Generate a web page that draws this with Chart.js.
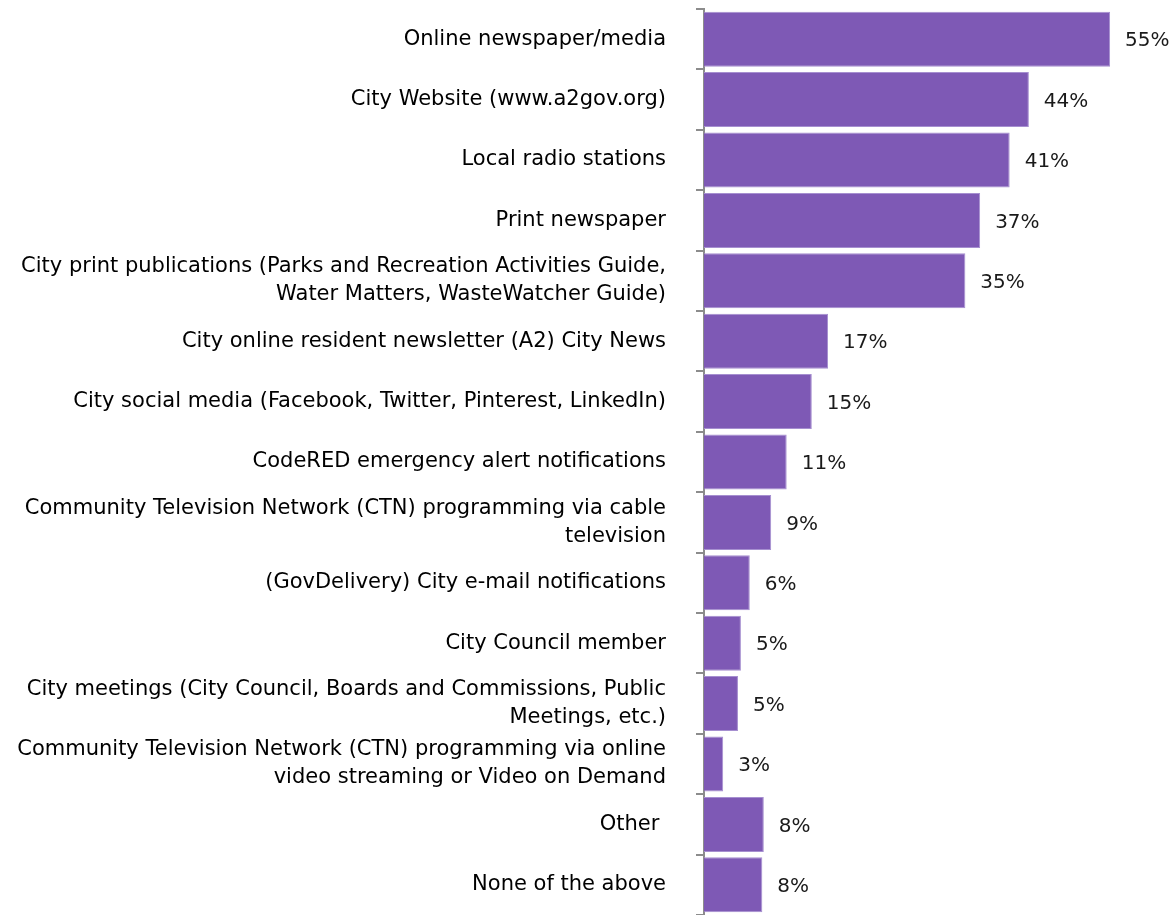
<!DOCTYPE html>
<html>
<head>
<meta charset="utf-8">
<script src="https://cdn.jsdelivr.net/npm/chart.js@4"></script>
<style>
  html, body { margin: 0; padding: 0; background: #fff; }
  #wrap { width: 1173px; height: 915px; position: relative; }
</style>
</head>
<body>
<div id="wrap"><canvas id="chart"></canvas></div>
<script>
const categories = [
  "Online newspaper/media",
  "City Website (www.a2gov.org)",
  "Local radio stations",
  "Print newspaper",
  ["City print publications (Parks and Recreation Activities Guide,", "Water Matters, WasteWatcher Guide)"],
  "City online resident newsletter (A2) City News",
  "City social media (Facebook, Twitter, Pinterest, LinkedIn)",
  "CodeRED emergency alert notifications",
  ["Community Television Network (CTN) programming via cable", "television"],
  "(GovDelivery) City e-mail notifications",
  "City Council member",
  ["City meetings (City Council, Boards and Commissions, Public", "Meetings, etc.)"],
  ["Community Television Network (CTN) programming via online", "video streaming or Video on Demand"],
  "Other ",
  "None of the above"
];
const percents = [55, 44, 41.4, 37.4, 35.4, 16.8, 14.6, 11.2, 9.1, 6.2, 5.0, 4.6, 2.6, 8.1, 7.9];

const FONT = "'DejaVu Sans', Verdana, sans-serif";
const AXIS_X = 704;

// percentage text right of each bar
const valueLabels = {
  id: "valueLabels",
  afterDatasetsDraw(chart) {
    const ctx = chart.ctx;
    const meta = chart.getDatasetMeta(0);
    ctx.save();
    ctx.font = "20px " + FONT;
    ctx.fillStyle = "#1a1a1a";
    ctx.textAlign = "left";
    ctx.textBaseline = "middle";
    meta.data.forEach((bar, i) => {
      ctx.fillText(Math.round(percents[i]) + "%", bar.x + 15, bar.y + 2);
    });
    ctx.restore();
  }
};

new Chart(document.getElementById("chart"), {
  type: "bar",
  data: {
    labels: categories,
    datasets: [{
      data: percents,
      backgroundColor: "#7e59b5",
      borderColor: "#a68fd0",
      borderWidth: 1,
      barPercentage: 0.91,
      categoryPercentage: 1.0
    }]
  },
  options: {
    indexAxis: "y",
    responsive: true,
    maintainAspectRatio: false,
    animation: false,
    layout: { padding: { top: 9, bottom: 0, left: 0, right: 26 } },
    plugins: {
      legend: { display: false },
      tooltip: { enabled: false }
    },
    scales: {
      x: {
        display: false,
        min: 0,
        max: 60
      },
      y: {
        afterFit(scale) {
          scale.width = AXIS_X;
          scale.paddingTop = 0;
          scale.paddingBottom = 0;
        },
        border: { display: true, color: "#8c8c8c", width: 2 },
        grid: {
          display: true,
          drawOnChartArea: false,
          drawTicks: true,
          tickLength: 8,
          color: "#8c8c8c",
          lineWidth: 2,
          offset: true
        },
        ticks: {
          color: "#000",
          padding: 30,
          font: { family: FONT, size: 21, lineHeight: 1.33 },
          autoSkip: false
        }
      }
    }
  },
  plugins: [valueLabels]
});
</script>
</body>
</html>
